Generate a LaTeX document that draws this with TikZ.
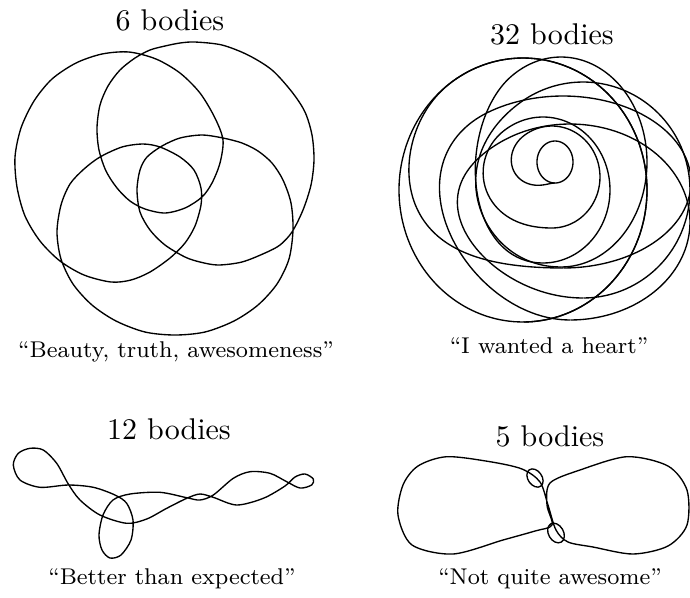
\documentclass[tikz,border=0pt]{standalone}
\usepackage{tikz}

\begin{document}
\begin{tikzpicture}[
    x={(0.3333pt,0)}, y={(0,-0.3333pt)},
    declare function={blend(\q)=min(1,\q/0.4)^2*(3-2*min(1,\q/0.4));},
    orbit/.style={line width=0.45pt, line join=round},
    title/.style={font=\fontsize{10}{12}\selectfont, anchor=base, inner sep=0pt},
    quote/.style={font=\fontsize{7.6}{9}\selectfont, anchor=base, inner sep=0pt}
]
\useasboundingbox (0,0) rectangle (690,597);

% 6 bodies
\node[title] (t6) at (170,30) {6 bodies};
\draw[orbit] plot[smooth cycle] coordinates {
  (70,184) (84,169) (100,157) (122,147) (143,144) (160,147) (180,157) (194,170) (201,188)
  (201,205) (195,226) (185,243) (170,258) (150,272) (131,280) (111,282) (84,275)
  (60,261) (40,241) (25,216) (17,187) (15,157) (21,128) (34,101) (52,79) (76,63)
  (102,54) (129,52) (156,59) (180,73) (200,93) (215,118) (223,140) (220,163)
  (212,183) (202,197) (185,208) (165,213) (145,209) (130,201)
  (117,188) (106,171) (99,150) (97,128) (100,105) (108,86) (120,70) (135,58)
  (150,50) (165,46) (180,43) (195,42) (222,45) (248,55) (272,70) (292,92) (305,112)
  (312,135) (314,160) (311,185) (303,210) (292,232) (280,245) (265,253) (242,262)
  (218,265) (200,262) (185,257) (165,245) (150,230) (140,212) (137,190) (140,170)
  (147,157) (162,146) (180,138) (202,135) (223,138) (242,143) (258,151) (272,163)
  (283,180) (291,203) (293,230) (289,259) (277,284) (258,305) (234,321) (205,332)
  (175,335) (145,332) (116,321) (92,305) (73,284) (61,259) (57,232) (61,205)};
\node[quote] (q6) at (176,357) {``Beauty, truth, awesomeness''};

% 32 bodies
\node[title] (t32) at (552,44) {32 bodies};
\foreach \ax/\ay/\arx/\ary/\bx/\by/\brx/\bry in {
    555/162/18/21/555/162/18/21, 555/162/18/21/552/177/48/51,
    552/177/48/51/543/190/67/73, 543/190/67/73/561/162/86/105,
    561/162/86/105/583/190/107/108, 583/190/107/108/570/222/120/98,
    570/222/120/98/563/182/128/86, 563/182/128/86/523/190/124/132,
    523/190/124/132/523/190/124/132}
  \draw[orbit] plot[domain=0:1, samples=90, smooth, variable=\fr]
    ({\ax+(\bx-\ax)*blend(\fr)+(\arx+(\brx-\arx)*blend(\fr))*cos(360*\fr+90)},
     {\ay+(\by-\ay)*blend(\fr)+(\ary+(\bry-\ary)*blend(\fr))*sin(360*\fr+90)});
\node[quote] (q32) at (549,353) {``I wanted a heart''};

% 12 bodies
\node[title] (t12) at (169,439) {12 bodies};
\draw[orbit] plot[smooth cycle] coordinates {
  (13.3,465) (20,480) (40,487.3) (68.3,485) (93.3,487.3) (115,495) (126.7,503.3)
  (133,520) (131,540) (121,555) (110,558) (102,550) (99,535) (103,515) (113,500)
  (130,494) (160,492.3) (186.7,497.7) (200,500) (213.3,495) (233.3,478.3)
  (250,471.7) (270,473.3) (286.7,481.7) (300,488) (311.7,485) (313.3,479) (305,474)
  (295,477) (285,486) (263.3,498.3) (236.7,505) (213.3,497.3) (200,494)
  (186.7,498.3) (166.7,508.3) (146.7,519) (126.7,523.3) (100,515) (80,500)
  (68.3,484) (56.7,463.3) (43.3,450) (30,448.3) (18.3,453.3)};
\node[quote] (q12) at (172,584) {``Better than expected''};

% 5 bodies
\node[title] (t5) at (550,446) {5 bodies};
\draw[orbit] plot[smooth cycle] coordinates {
  (446.7,456.7) (490,461.7) (522,469) (540,482) (548,505) (556,530) (568,542)
  (593,547) (633,554) (668,546) (687,525) (687,490) (668,466) (627,456.7)
  (580,470) (550,483) (547,505) (552,525) (535,531) (503,540) (453,554)
  (412,545) (398,515) (403,485) (418,466)};
\draw[orbit, rotate around={35:(535,478)}] (535,478) ellipse (7 and 10);
\draw[orbit, rotate around={30:(556,533)}] (556,533) ellipse (7.5 and 10.5);
\node[quote] (q5) at (550,584) {``Not quite awesome''};
\end{tikzpicture}
\end{document}
